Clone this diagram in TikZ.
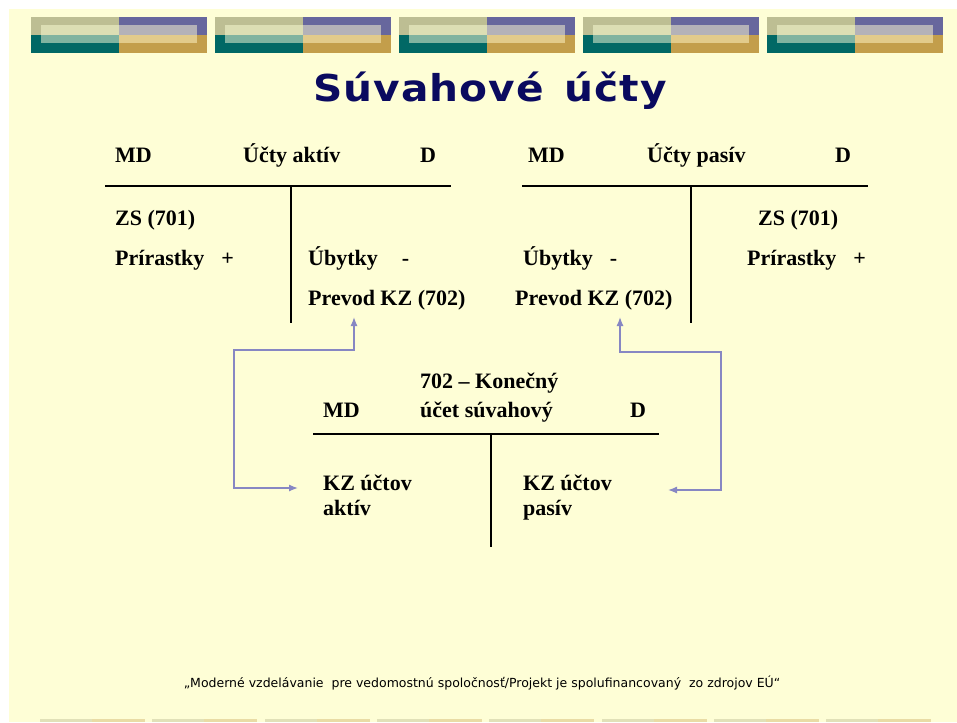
\documentclass[tikz,border=0pt]{standalone}
\usepackage{fontspec}
\setmainfont{Liberation Serif}
\newfontfamily\titlefont{DejaVu Sans}
\newfontfamily\footfont{DejaVu Sans}
\usetikzlibrary{calc}
\usetikzlibrary{arrows.meta}

\definecolor{cream}{RGB}{254,254,214}
\definecolor{navy}{RGB}{10,10,95}
\definecolor{arrowc}{RGB}{135,135,195}
\definecolor{olivea}{RGB}{189,190,147}
\definecolor{purplea}{RGB}{103,103,157}
\definecolor{teala}{RGB}{1,104,101}
\definecolor{golda}{RGB}{195,158,75}
\definecolor{oliveb}{RGB}{220,222,180}
\definecolor{purpleb}{RGB}{180,178,184}
\definecolor{tealb}{RGB}{128,179,160}
\definecolor{goldb}{RGB}{226,203,139}

\begin{document}
\begin{tikzpicture}
  [x=1pt, y=-1pt,
   txt/.style = {font=\bfseries\fontsize{22}{24}\selectfont, inner sep=0pt, anchor=base west},
   tline/.style = {line width=1.5pt},
   flow/.style = {draw=arrowc, line width=1.3pt,
     {Latex[length=9pt,width=7pt]}-{Latex[length=9pt,width=7pt]}}]
  \useasboundingbox (0,0) rectangle (957,722);
  \fill[white] (0,0) rectangle (957,722);
  \fill[cream] (9,9) rectangle (957,722);

  % stripes on top
  \foreach \i in {0,...,4} {
    \pgfmathsetmacro{\xa}{31+184*\i}
    \fill[olivea] (\xa,17) rectangle ++(88,18);
    \fill[purplea] (\xa+88,17) rectangle ++(88,18);
    \fill[teala] (\xa,35) rectangle ++(88,18);
    \fill[golda] (\xa+88,35) rectangle ++(88,18);
    \fill[oliveb] (\xa+10,25) rectangle ++(78,10);
    \fill[purpleb] (\xa+88,25) rectangle ++(78,10);
    \fill[tealb] (\xa+10,35) rectangle ++(78,8);
    \fill[goldb] (\xa+88,35) rectangle ++(78,8);
  }
  % stripes at the bottom edge
  \foreach \i in {0,...,7} {
    \pgfmathsetmacro{\xb}{40+112.3*\i}
    \fill[olivea!45!cream] (\xb,719) rectangle ++(52,3);
    \fill[golda!35!cream] (\xb+52,719) rectangle ++(53,3);
  }

  \node (title) at (490,91) {\titlefont\bfseries\fontsize{37}{42}\selectfont
    \addfontfeature{LetterSpace=3,FakeStretch=1.1}\color{navy}Súvahové\hspace{5pt} účty};

  % ucty aktiv
  \node[txt] (mdA) at (115,163) {MD};
  \node[txt] (nameA) at (243,163) {Účty aktív};
  \node[txt] (dA) at (420,163) {D};
  \node[txt] (zsA) at (115,225) {ZS (701)};
  \node[txt] (priA) at (115,265) {Prírastky\hspace{17pt}+};
  \node[txt] (ubyA) at (308,265) {Úbytky\hspace{24pt}-};
  \node[txt] (prevA) at (308,305) {Prevod KZ (702)};
  \coordinate (hA1) at (105,186);
  \coordinate (hA2) at (451,186);
  \coordinate (vA1) at (291,186);
  \coordinate (vA2) at (291,323);
  \draw[tline] (hA1) -- (hA2);
  \draw[tline] (vA1) -- (vA2);

  % ucty pasiv
  \node[txt] (mdP) at (528,163) {MD};
  \node[txt] (nameP) at (647,163) {Účty pasív};
  \node[txt] (dP) at (835,163) {D};
  \node[txt] (zsP) at (758,225) {ZS (701)};
  \node[txt] (priP) at (747,265) {Prírastky\hspace{17pt}+};
  \node[txt] (ubyP) at (523,265) {Úbytky\hspace{17pt}-};
  \node[txt] (prevP) at (515,305) {Prevod KZ (702)};
  \coordinate (hP1) at (522,186);
  \coordinate (hP2) at (868,186);
  \coordinate (vP1) at (691,186);
  \coordinate (vP2) at (691,323);
  \draw[tline] (hP1) -- (hP2);
  \draw[tline] (vP1) -- (vP2);

  % konecny ucet suvahovy
  \node[txt] (nameK1) at (420,388) {702 – Konečný};
  \node[txt] (nameK2) at (420,417) {účet súvahový};
  \node[txt] (mdK) at (323,417) {MD};
  \node[txt] (dK) at (630,417) {D};
  \node[txt] (kzA1) at (323,490) {KZ účtov};
  \node[txt] (kzA2) at (323,515) {aktív};
  \node[txt] (kzP1) at (523,490) {KZ účtov};
  \node[txt] (kzP2) at (523,515) {pasív};
  \coordinate (hK1) at (313,434);
  \coordinate (hK2) at (659,434);
  \coordinate (vK1) at (491,434);
  \coordinate (vK2) at (491,547);
  \draw[tline] (hK1) -- (hK2);
  \draw[tline] (vK1) -- (vK2);

  % arrows
  \coordinate (aTop) at (354,317);
  \coordinate (aEnd) at (298,488);
  \coordinate (pTop) at (620,317);
  \coordinate (pEnd) at (668,490);
  \draw[flow] (aTop) -- ($(aTop)+(0,33)$) -| ($(aEnd)+(-64,0)$) -- (aEnd);
  \draw[flow] (pTop) -- ($(pTop)+(0,35)$) -| ($(pEnd)+(53,0)$) -- (pEnd);

  \node (foot) at (482,683) {\footfont\fontsize{12.5}{14}\selectfont
    „Moderné vzdelávanie\ \ pre vedomostnú spoločnosť/Projekt je spolufinancovaný\ \ zo zdrojov EÚ“};
\end{tikzpicture}
\end{document}
